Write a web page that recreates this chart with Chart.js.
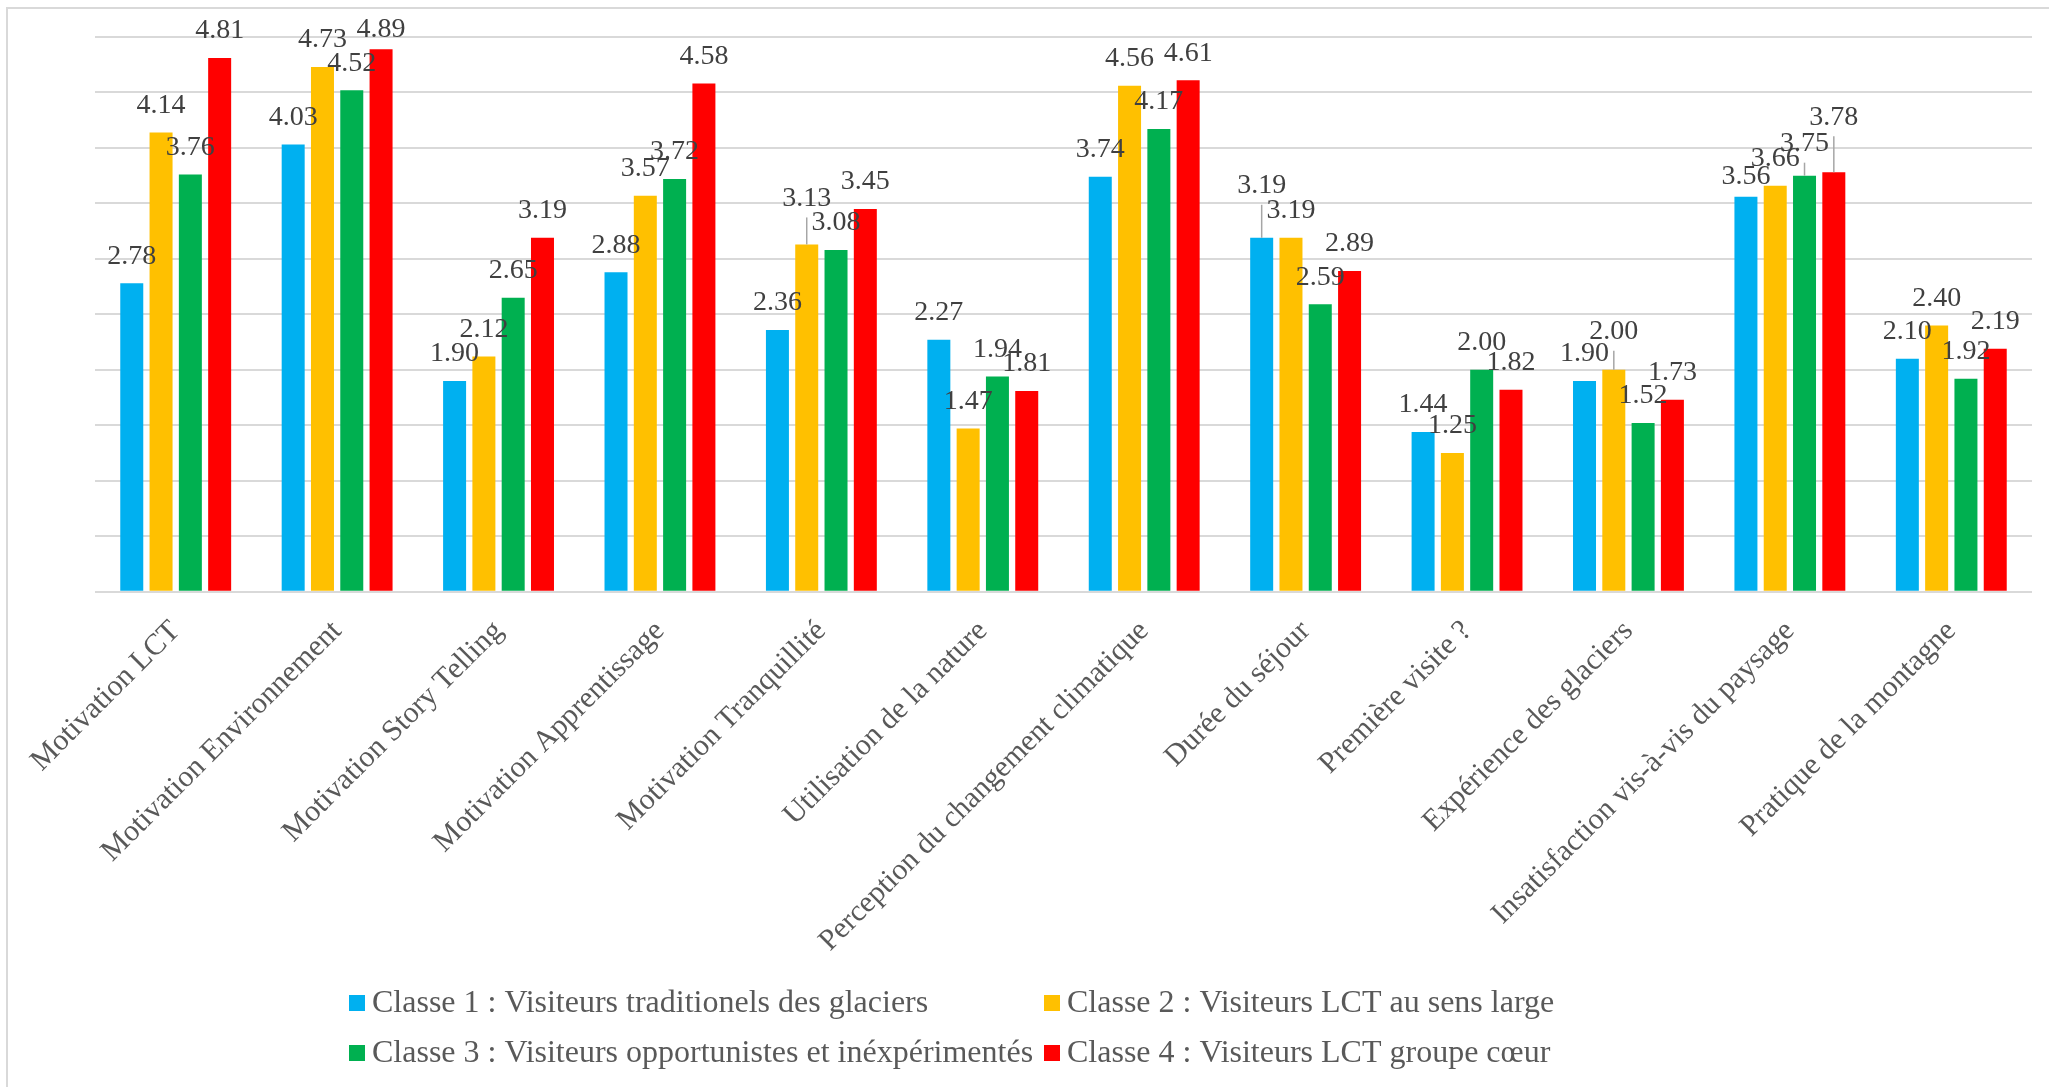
<!DOCTYPE html>
<html lang="fr">
<head>
<meta charset="utf-8">
<title>Classes de visiteurs</title>
<script src="https://cdn.jsdelivr.net/npm/chart.js@4.4.1/dist/chart.umd.min.js"></script>
<style>
    html, body { margin: 0; padding: 0; background: #ffffff; overflow: hidden; }
    #wrap { position: relative; width: 2049px; height: 1087px; }
</style>
</head>
<body>
<div id="wrap"><canvas id="classes-chart"></canvas></div>
<script>
const categories = [
    "Motivation LCT",
    "Motivation Environnement",
    "Motivation Story Telling",
    "Motivation Apprentissage",
    "Motivation Tranquillité",
    "Utilisation de la nature",
    "Perception du changement climatique",
    "Durée du séjour",
    "Première visite ?",
    "Expérience des glaciers",
    "Insatisfaction vis-à-vis du paysage",
    "Pratique de la montagne"
];

const seriesNames = [
    "Classe 1 : Visiteurs traditionels des glaciers",
    "Classe 2 : Visiteurs LCT au sens large",
    "Classe 3 : Visiteurs opportunistes et inéxpérimentés",
    "Classe 4 : Visiteurs LCT groupe cœur"
];

const classe1 = [2.78, 4.03, 1.90, 2.88, 2.36, 2.27, 3.74, 3.19, 1.44, 1.90, 3.56, 2.10];
const classe2 = [4.14, 4.73, 2.12, 3.57, 3.13, 1.47, 4.56, 3.19, 1.25, 2.00, 3.66, 2.40];
const classe3 = [3.76, 4.52, 2.65, 3.72, 3.08, 1.94, 4.17, 2.59, 2.00, 1.52, 3.75, 1.92];
const classe4 = [4.81, 4.89, 3.19, 4.58, 3.45, 1.81, 4.61, 2.89, 1.82, 1.73, 3.78, 2.19];

const seriesColors = ["#00B0F0", "#FFC000", "#00B050", "#FF0000"];

// labels that were pulled up (or down) from their default spot; "leader" draws the thin line back to the bar
const labelMoves = [
    { series: 3, index: 1, up: -7, leader: false },
    { series: 1, index: 4, up: 19, leader: true },
    { series: 0, index: 7, up: 25, leader: true },
    { series: 1, index: 9, up: 11, leader: true },
    { series: 0, index: 10, up: -7, leader: false },
    { series: 2, index: 10, up: 5, leader: true },
    { series: 3, index: 10, up: 28, leader: true }
];

const serif = "'Liberation Serif', 'Times New Roman', serif";

const framePlugin = {
    id: "frame",
    beforeDraw(chart) {
        const ctx = chart.ctx;
        ctx.save();
        ctx.strokeStyle = "#d9d9d9";
        ctx.lineWidth = 2;
        ctx.strokeRect(7, 8, chart.width + 20, chart.height + 20);
        ctx.restore();
    }
};

const valueLabels = {
    id: "valueLabels",
    afterDatasetsDraw(chart) {
        const ctx = chart.ctx;
        ctx.save();
        ctx.font = "28px " + serif;
        ctx.textAlign = "center";
        ctx.textBaseline = "middle";
        chart.data.datasets.forEach((ds, si) => {
            const meta = chart.getDatasetMeta(si);
            meta.data.forEach((bar, i) => {
                const move = labelMoves.find(m => m.series === si && m.index === i);
                const up = move ? move.up : 0;
                const cy = bar.y - 27 - up;
                if (move && move.leader) {
                    ctx.strokeStyle = "#a6a6a6";
                    ctx.lineWidth = 1.5;
                    ctx.beginPath();
                    ctx.moveTo(bar.x, cy + 19);
                    ctx.lineTo(bar.x, bar.y);
                    ctx.stroke();
                }
                ctx.fillStyle = "#404040";
                ctx.fillText(ds.data[i].toFixed(2), bar.x, cy);
            });
        });
        ctx.restore();
    }
};

// two-column legend under the axis labels
const gridLegend = {
    id: "gridLegend",
    afterDraw(chart) {
        const ctx = chart.ctx;
        const colX = [349, 1044];
        const rowY = [1003, 1053];
        ctx.save();
        ctx.font = "32px " + serif;
        ctx.textAlign = "left";
        ctx.textBaseline = "middle";
        chart.data.datasets.forEach((ds, i) => {
            const x = colX[i % 2];
            const y = rowY[Math.floor(i / 2)];
            ctx.fillStyle = ds.backgroundColor;
            ctx.fillRect(x, y - 8, 16, 16);
            ctx.fillStyle = "#595959";
            ctx.fillText(ds.label, x + 23, y + 1);
        });
        ctx.restore();
    }
};

document.addEventListener("DOMContentLoaded", function() {
    const allSeries = [classe1, classe2, classe3, classe4];
    const datasets = allSeries.map((values, i) => ({
        label: seriesNames[i],
        data: values,
        backgroundColor: seriesColors[i],
        borderWidth: 0,
        categoryPercentage: 0.726,
        barPercentage: 0.785
    }));

    const ctx = document.getElementById("classes-chart").getContext("2d");
    new Chart(ctx, {
        type: "bar",
        data: { labels: categories, datasets: datasets },
        options: {
            responsive: true,
            maintainAspectRatio: false,
            animation: false,
            layout: { padding: { left: 95, right: 17, top: 37, bottom: 114 } },
            plugins: {
                legend: { display: false },
                tooltip: { enabled: false }
            },
            scales: {
                x: {
                    grid: { display: false },
                    border: { display: false },
                    ticks: {
                        autoSkip: false,
                        maxRotation: 45,
                        minRotation: 45,
                        padding: 14,
                        color: "#595959",
                        font: { family: serif, size: 30 }
                    }
                },
                y: {
                    min: 0,
                    max: 5,
                    border: { display: false },
                    grid: { color: "#d9d9d9", lineWidth: 2, drawTicks: false },
                    ticks: { stepSize: 0.5, display: false }
                }
            }
        },
        plugins: [framePlugin, valueLabels, gridLegend]
    });
});
</script>
</body>
</html>
